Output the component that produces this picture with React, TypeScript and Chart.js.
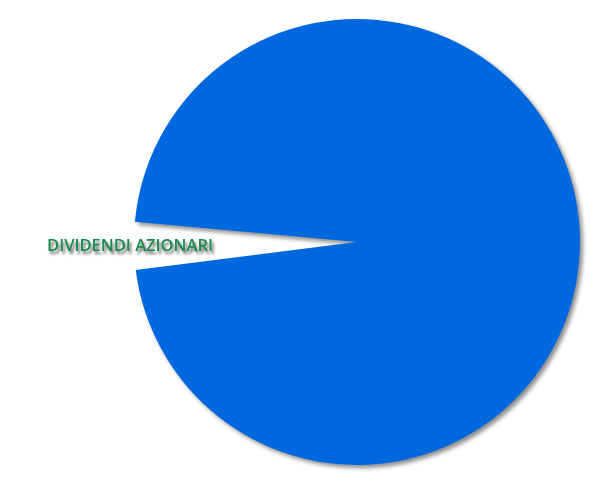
import React, { useEffect, useRef } from "react";
import { Chart, registerables } from "chart.js";

Chart.register(...registerables);

const categories = ["DIVIDENDI AZIONARI", "ALTRO"];
const values = [3.45, 96.55];
const sliceColors = ["rgba(255,255,255,0)", "#0068df"];
const labelShown = [true, false];

const shadowPlugin = {
  id: "pieShadow",
  beforeDatasetsDraw(chart: any) {
    const ctx = chart.ctx;
    ctx.save();
    ctx.shadowColor = "rgba(0,0,0,0.45)";
    ctx.shadowOffsetX = 3;
    ctx.shadowOffsetY = 3;
    ctx.shadowBlur = 4;
  },
  afterDatasetsDraw(chart: any) {
    chart.ctx.restore();
  },
};

const labelPlugin = {
  id: "sliceLabels",
  afterDraw(chart: any) {
    const ctx = chart.ctx;
    const meta = chart.getDatasetMeta(0);
    meta.data.forEach((arc: any, i: number) => {
      if (!labelShown[i]) return;
      const p = arc.getProps(["x", "y", "startAngle", "endAngle", "outerRadius"], true);
      const mid = (p.startAngle + p.endAngle) / 2;
      const x = p.x + Math.cos(mid) * (p.outerRadius + 4);
      const y = p.y + Math.sin(mid) * p.outerRadius;
      ctx.save();
      ctx.font = "600 16.5px 'Open Sans'";
      ctx.textAlign = "center";
      ctx.textBaseline = "middle";
      ctx.shadowColor = "rgba(0,0,0,0.6)";
      ctx.shadowOffsetX = 2;
      ctx.shadowOffsetY = 3;
      ctx.shadowBlur = 3;
      ctx.fillStyle = "#188a4c";
      ctx.fillText(categories[i], x, y);
      ctx.restore();
    });
  },
};

export default function App() {
  const ref = useRef<HTMLCanvasElement | null>(null);
  useEffect(() => {
    document.body.style.margin = "0";
    if (!ref.current) return;
    const chart = new Chart(ref.current, {
      type: "pie",
      data: {
        labels: categories,
        datasets: [
          {
            data: values,
            backgroundColor: sliceColors,
            borderWidth: 0,
          },
        ],
      },
      options: {
        animation: false,
        responsive: false,
        rotation: 262.8,
        layout: { padding: { left: 134, right: 20, top: 19, bottom: 35 } },
        plugins: {
          legend: { display: false },
          tooltip: { enabled: false },
        },
      },
      plugins: [shadowPlugin, labelPlugin],
    });
    return () => chart.destroy();
  }, []);
  return (
    <div style={{ width: 600, height: 500, position: "relative", background: "#fff" }}>
      <canvas ref={ref} width={600} height={500} style={{ width: 600, height: 500 }} />
    </div>
  );
}
